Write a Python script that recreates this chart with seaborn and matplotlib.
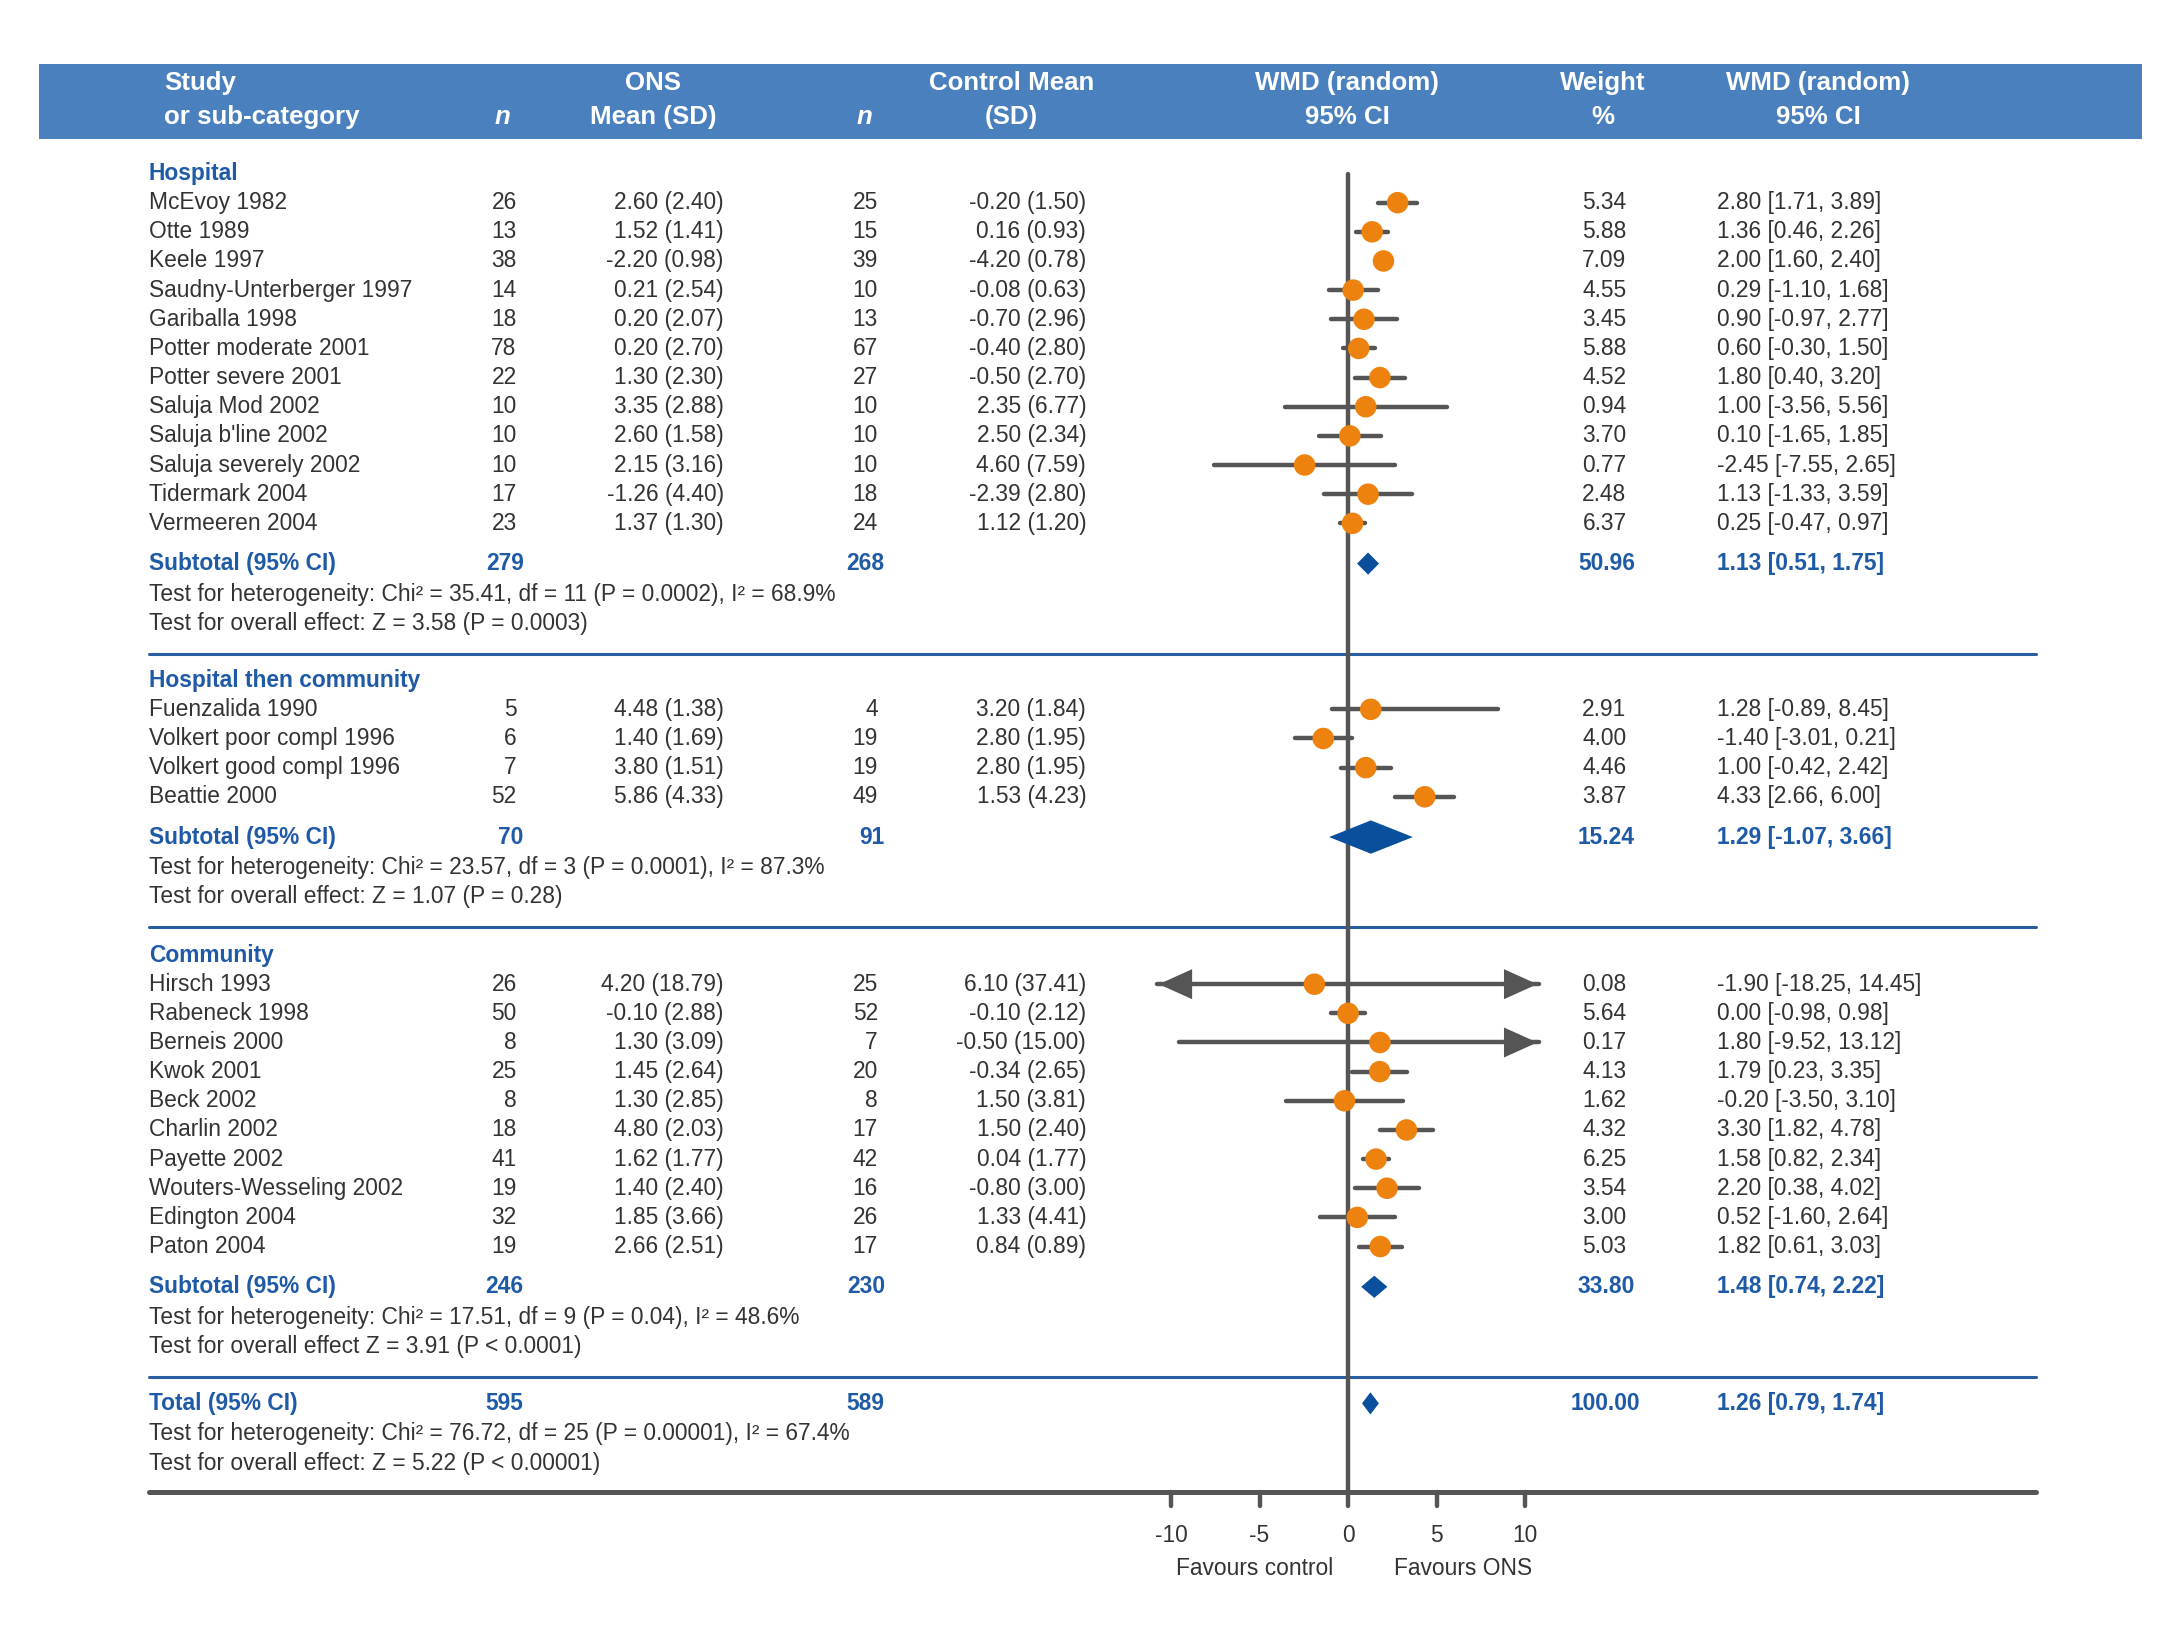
import matplotlib
matplotlib.use("Agg")
import matplotlib.pyplot as plt
import seaborn as sns
import numpy as np
from matplotlib.patches import Rectangle, Polygon

sns.set_theme(style="white")
plt.rcParams['font.family'] = ['Liberation Sans', 'DejaVu Sans']

# ---------------- data ----------------
groups = ["Hospital", "Hospital then community", "Community"]
studies = [
    ["McEvoy 1982", "Otte 1989", "Keele 1997", "Saudny-Unterberger 1997", "Gariballa 1998",
     "Potter moderate 2001", "Potter severe 2001", "Saluja Mod 2002", "Saluja b'line 2002",
     "Saluja severely 2002", "Tidermark 2004", "Vermeeren 2004"],
    ["Fuenzalida 1990", "Volkert poor compl 1996", "Volkert good compl 1996", "Beattie 2000"],
    ["Hirsch 1993", "Rabeneck 1998", "Berneis 2000", "Kwok 2001", "Beck 2002", "Charlin 2002",
     "Payette 2002", "Wouters-Wesseling 2002", "Edington 2004", "Paton 2004"],
]
n_ons = [[26, 13, 38, 14, 18, 78, 22, 10, 10, 10, 17, 23], [5, 6, 7, 52],
         [26, 50, 8, 25, 8, 18, 41, 19, 32, 19]]
ons_mean = [["2.60 (2.40)", "1.52 (1.41)", "-2.20 (0.98)", "0.21 (2.54)", "0.20 (2.07)", "0.20 (2.70)",
             "1.30 (2.30)", "3.35 (2.88)", "2.60 (1.58)", "2.15 (3.16)", "-1.26 (4.40)", "1.37 (1.30)"],
            ["4.48 (1.38)", "1.40 (1.69)", "3.80 (1.51)", "5.86 (4.33)"],
            ["4.20 (18.79)", "-0.10 (2.88)", "1.30 (3.09)", "1.45 (2.64)", "1.30 (2.85)", "4.80 (2.03)",
             "1.62 (1.77)", "1.40 (2.40)", "1.85 (3.66)", "2.66 (2.51)"]]
n_ctl = [[25, 15, 39, 10, 13, 67, 27, 10, 10, 10, 18, 24], [4, 19, 19, 49],
         [25, 52, 7, 20, 8, 17, 42, 16, 26, 17]]
ctl_mean = [["-0.20 (1.50)", "0.16 (0.93)", "-4.20 (0.78)", "-0.08 (0.63)", "-0.70 (2.96)", "-0.40 (2.80)",
             "-0.50 (2.70)", "2.35 (6.77)", "2.50 (2.34)", "4.60 (7.59)", "-2.39 (2.80)", "1.12 (1.20)"],
            ["3.20 (1.84)", "2.80 (1.95)", "2.80 (1.95)", "1.53 (4.23)"],
            ["6.10 (37.41)", "-0.10 (2.12)", "-0.50 (15.00)", "-0.34 (2.65)", "1.50 (3.81)", "1.50 (2.40)",
             "0.04 (1.77)", "-0.80 (3.00)", "1.33 (4.41)", "0.84 (0.89)"]]
weights = [[5.34, 5.88, 7.09, 4.55, 3.45, 5.88, 4.52, 0.94, 3.70, 0.77, 2.48, 6.37],
           [2.91, 4.00, 4.46, 3.87],
           [0.08, 5.64, 0.17, 4.13, 1.62, 4.32, 6.25, 3.54, 3.00, 5.03]]
est = [[2.80, 1.36, 2.00, 0.29, 0.90, 0.60, 1.80, 1.00, 0.10, -2.45, 1.13, 0.25],
       [1.28, -1.40, 1.00, 4.33],
       [-1.90, 0.00, 1.80, 1.79, -0.20, 3.30, 1.58, 2.20, 0.52, 1.82]]
lo = [[1.71, 0.46, 1.60, -1.10, -0.97, -0.30, 0.40, -3.56, -1.65, -7.55, -1.33, -0.47],
      [-0.89, -3.01, -0.42, 2.66],
      [-18.25, -0.98, -9.52, 0.23, -3.50, 1.82, 0.82, 0.38, -1.60, 0.61]]
hi = [[3.89, 2.26, 2.40, 1.68, 2.77, 1.50, 3.20, 5.56, 1.85, 2.65, 3.59, 0.97],
      [8.45, 0.21, 2.42, 6.00],
      [14.45, 0.98, 13.12, 3.35, 3.10, 4.78, 2.34, 4.02, 2.64, 3.03]]
sub_n_ons = [279, 70, 246]
sub_n_ctl = [268, 91, 230]
sub_w = ["50.96", "15.24", "33.80"]
sub_est = [1.13, 1.29, 1.48]
sub_lo = [0.51, -1.07, 0.74]
sub_hi = [1.75, 3.66, 2.22]
het = ["Test for heterogeneity: Chi² = 35.41, df = 11 (P = 0.0002), I² = 68.9%",
       "Test for heterogeneity: Chi² = 23.57, df = 3 (P = 0.0001), I² = 87.3%",
       "Test for heterogeneity: Chi² = 17.51, df = 9 (P = 0.04), I² = 48.6%"]
overall = ["Test for overall effect: Z = 3.58 (P = 0.0003)",
           "Test for overall effect: Z = 1.07 (P = 0.28)",
           "Test for overall effect Z = 3.91 (P < 0.0001)"]
tot = dict(n1=595, n2=589, w="100.00", est=1.26, lo=0.79, hi=1.74,
           het="Test for heterogeneity: Chi² = 76.72, df = 25 (P = 0.00001), I² = 67.4%",
           ov="Test for overall effect: Z = 5.22 (P < 0.00001)")
ticks = [-10, -5, 0, 5, 10]

# ---------------- layout ----------------
W, H = 1568, 1180
BLUE = "#1f5aa6"; HEAD = "#4a80bd"; ORANGE = "#ee820f"; GREY = "#555555"; TXT = "#333333"
fig = plt.figure(figsize=(10.89, 8.19), dpi=200)
ax = fig.add_axes([0, 0, 1, 1])
ax.set_xlim(0, W); ax.set_ylim(H, 0); ax.axis("off")
# forest axis: value v -> px 970.5 + 12.75 v
sc, x0 = 12.75, 970.5
fx = fig.add_axes([0, 0, 1, 1], sharey=ax)
fx.set_xlim((0 - x0) / sc, (W - x0) / sc); fx.axis("off"); fx.patch.set_alpha(0)

fs = 8.2
ax.add_patch(Rectangle((28, 46), 1514, 54, color=HEAD, lw=0))
hk = dict(color="white", fontsize=9.3, fontweight="bold", va="center")
ax.text(118, 60, "Study", ha="left", **hk); ax.text(118, 84, "or sub-category", ha="left", **hk)
ax.text(362, 84, "n", ha="center", style="italic", **hk)
ax.text(470, 60, "ONS", ha="center", **hk); ax.text(470, 84, "Mean (SD)", ha="center", **hk)
ax.text(622, 84, "n", ha="center", style="italic", **hk)
ax.text(728, 60, "Control Mean", ha="center", **hk); ax.text(728, 84, "(SD)", ha="center", **hk)
ax.text(970, 60, "WMD (random)", ha="center", **hk); ax.text(970, 84, "95% CI", ha="center", **hk)
ax.text(1154, 60, "Weight", ha="center", **hk); ax.text(1154, 84, "%", ha="center", **hk)
ax.text(1309, 60, "WMD (random)", ha="center", **hk); ax.text(1309, 84, "95% CI", ha="center", **hk)

def ci_txt(e, l, h):
    return f"{e:.2f} [{l:.2f}, {h:.2f}]"

def diamond(y, e, l, h, hh):
    fx.add_patch(Polygon([(l, y), (e, y - hh), (h, y), (e, y + hh)], closed=True,
                         color="#0a4f9c", lw=0, zorder=4))

starts = [125, 490, 688]
step = 21
for g in range(3):
    y = starts[g]
    ax.text(107, y, groups[g], color=BLUE, fontsize=fs, fontweight="bold", va="center")
    for i in range(len(studies[g])):
        y += step
        ax.text(107, y, studies[g][i], color=TXT, fontsize=fs, va="center")
        ax.text(372, y, str(n_ons[g][i]), color=TXT, fontsize=fs, va="center", ha="right")
        ax.text(521, y, ons_mean[g][i], color=TXT, fontsize=fs, va="center", ha="right")
        ax.text(632, y, str(n_ctl[g][i]), color=TXT, fontsize=fs, va="center", ha="right")
        ax.text(782, y, ctl_mean[g][i], color=TXT, fontsize=fs, va="center", ha="right")
        ax.text(1171, y, f"{weights[g][i]:.2f}", color=TXT, fontsize=fs, va="center", ha="right")
        ax.text(1236, y, ci_txt(est[g][i], lo[g][i], hi[g][i]), color=TXT, fontsize=fs, va="center")
        l, h = lo[g][i], hi[g][i]
        lc, hc = max(l, -10.8), min(h, 10.8)
        fx.plot([lc, hc], [y, y], color=GREY, lw=1.6, zorder=2)
        if l < -10.8:
            fx.annotate("", xy=(-11, y), xytext=(-9, y),
                        arrowprops=dict(arrowstyle="-|>,head_length=1.0,head_width=0.45", color=GREY, lw=0))
        if h > 10.8:
            fx.annotate("", xy=(11, y), xytext=(9, y),
                        arrowprops=dict(arrowstyle="-|>,head_length=1.0,head_width=0.45", color=GREY, lw=0))
        sns.scatterplot(x=[est[g][i]], y=[y], ax=fx, color=ORANGE, s=60, edgecolor="none", zorder=5, legend=False)
    ys = y + 29
    bk = dict(color=BLUE, fontsize=fs, fontweight="bold", va="center")
    ax.text(107, ys, "Subtotal (95% CI)", **bk)
    ax.text(377, ys, str(sub_n_ons[g]), ha="right", **bk)
    ax.text(637, ys, str(sub_n_ctl[g]), ha="right", **bk)
    ax.text(1177, ys, sub_w[g], ha="right", **bk)
    ax.text(1236, ys, ci_txt(sub_est[g], sub_lo[g], sub_hi[g]), **bk)
    diamond(ys, sub_est[g], sub_lo[g], sub_hi[g], 12 if g == 1 else 8)
    ax.text(107, ys + 22, het[g], color=TXT, fontsize=fs, va="center")
    ax.text(107, ys + 43, overall[g], color=TXT, fontsize=fs, va="center")
    ax.plot([107, 1466], [ys + 65, ys + 65], color="#2a5d9f", lw=1.1)

yt = 1011
bk = dict(color=BLUE, fontsize=fs, fontweight="bold", va="center")
ax.text(107, yt, "Total (95% CI)", **bk)
ax.text(377, yt, str(tot["n1"]), ha="right", **bk)
ax.text(637, yt, str(tot["n2"]), ha="right", **bk)
ax.text(1181, yt, tot["w"], ha="right", **bk)
ax.text(1236, yt, ci_txt(tot["est"], tot["lo"], tot["hi"]), **bk)
diamond(yt, tot["est"], tot["lo"], tot["hi"], 8)
ax.text(107, yt + 22, tot["het"], color=TXT, fontsize=fs, va="center")
ax.text(107, yt + 43, tot["ov"], color=TXT, fontsize=fs, va="center")

# axis
fx.plot([0, 0], [125, 1075], color=GREY, lw=1.6, zorder=1)
ax.plot([107, 1466], [1075, 1075], color=GREY, lw=1.8)
for t in ticks:
    fx.plot([t, t], [1075, 1085], color=GREY, lw=1.6)
    fx.text(t, 1106, str(t), ha="center", va="center", color=TXT, fontsize=fs)
fx.text(-5.3, 1130, "Favours control", ha="center", va="center", color=TXT, fontsize=fs)
fx.text(6.5, 1130, "Favours ONS", ha="center", va="center", color=TXT, fontsize=fs)

fig.savefig("out.png", dpi=200, facecolor="white")
